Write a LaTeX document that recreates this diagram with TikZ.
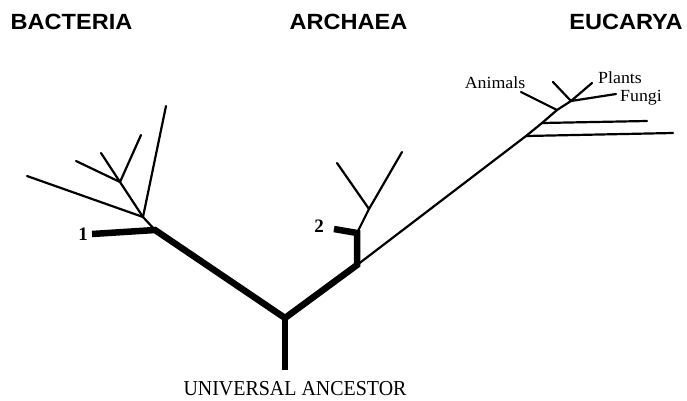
\documentclass[tikz,border=0pt]{standalone}
\usepackage{fontspec}
\setmainfont{Liberation Serif}
\newfontfamily\hdfont{Liberation Sans}
\begin{document}
\begin{tikzpicture}[x=1pt,y=-1pt,
  thin br/.style={line width=2.2pt,line cap=round},
  thick br/.style={line width=6.5pt},
  header/.style={font=\hdfont\bfseries\fontsize{22}{22}\selectfont,anchor=center,inner sep=0,xscale=1.07},
  lbl/.style={font=\fontsize{17}{17}\selectfont,inner sep=0,anchor=base,xscale=1.05},
  num/.style={font=\bfseries\fontsize{19}{19}\selectfont,inner sep=0,anchor=base}]
\useasboundingbox (0,0) rectangle (687,400);
% headers
\node[header] (hb) at (71.5,21.5) {BACTERIA};
\node[header] (ha) at (348.5,21.5) {ARCHAEA};
\node[header] (he) at (626,21.5) {EUCARYA};
% coordinates
\coordinate (root) at (285,370);
\coordinate (r) at (285,318);
\coordinate (b0) at (155,230);
\coordinate (b1) at (92,234);
\coordinate (bj) at (143,217);
\coordinate (bl) at (27,176);
\coordinate (bt) at (166,106);
\coordinate (bk) at (120,182);
\coordinate (bk1) at (76,161);
\coordinate (bk2) at (101,153);
\coordinate (bk3) at (141,135);
\coordinate (a0) at (357,265);
\coordinate (a1) at (357,233);
\coordinate (a2) at (334,229);
\coordinate (aj) at (369,209);
\coordinate (al) at (337,163);
\coordinate (ar) at (402,152);
\coordinate (e0) at (526,136);
\coordinate (e0r) at (673,133);
\coordinate (e1) at (542,123);
\coordinate (e1r) at (647,121);
\coordinate (e2) at (557,110);
\coordinate (ean) at (521,92);
\coordinate (e3) at (571,101);
\coordinate (e3a) at (553,82);
\coordinate (epl) at (592,83);
\coordinate (efu) at (616,94);
% thick trunk
\draw[thick br] (root) -- (r);
\draw[thick br,line join=miter] (b1) -- (b0) -- (r) -- (a0) -- (a1) -- (a2);
% bacteria
\draw[thin br] (b0) -- (bj);
\draw[thin br] (bj) -- (bl);
\draw[thin br] (bj) -- (bt);
\draw[thin br] (bj) -- (bk);
\draw[thin br] (bk) -- (bk1);
\draw[thin br] (bk) -- (bk2);
\draw[thin br] (bk) -- (bk3);
% archaea
\draw[thin br] (a1) -- (aj);
\draw[thin br] (aj) -- (al);
\draw[thin br] (aj) -- (ar);
% eucarya
\draw[thin br] (a0) -- (e0) -- (e1) -- (e2) -- (e3);
\draw[thin br] (e0) -- (e0r);
\draw[thin br] (e1) -- (e1r);
\draw[thin br] (e2) -- (ean);
\draw[thin br] (e3) -- (e3a);
\draw[thin br] (e3) -- (epl);
\draw[thin br] (e3) -- (efu);
% labels
\node[num] (l1) at (83,240.5) {1};
\node[num] (l2) at (319,232) {2};
\node[lbl] (lan) at (495,88) {Animals};
\node[lbl] (lpl) at (620,83.5) {Plants};
\node[lbl] (lfu) at (641,101) {Fungi};
\node[lbl,font=\fontsize{19}{19}\selectfont,xscale=1,yscale=1.12] (lua) at (295,395) {UNIVERSAL ANCESTOR};
\end{tikzpicture}
\end{document}
